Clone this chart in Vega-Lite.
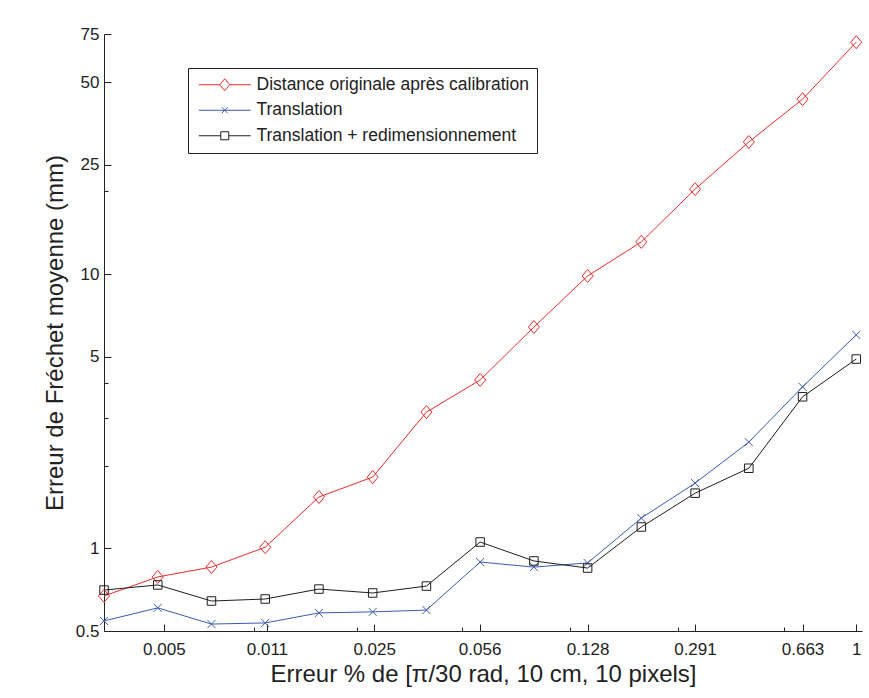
{
  "$schema": "https://vega.github.io/schema/vega-lite/v6.json",
  "width": 758,
  "height": 597,
  "autosize": "none",
  "padding": {"left": 104, "top": 34, "right": 7, "bottom": 67},
  "background": "white",
  "config": {
    "view": {"stroke": null},
    "axis": {
      "domainColor": "#222",
      "tickColor": "#222",
      "labelColor": "#222",
      "titleColor": "#222",
      "labelFont": "Liberation Sans",
      "titleFont": "Liberation Sans",
      "labelFontSize": 17,
      "titleFontSize": 24,
      "titleFontWeight": "normal",
      "tickWidth": 1,
      "domainWidth": 1,
      "grid": false,
      "labelOverlap": false,
      "labelFlush": false
    }
  },
  "data": {
    "values": [
      {"x": 0.003162, "y": 0.671, "s": "Distance originale après calibration"},
      {"x": 0.004771, "y": 0.787, "s": "Distance originale après calibration"},
      {"x": 0.007197, "y": 0.855, "s": "Distance originale après calibration"},
      {"x": 0.010858, "y": 1.01, "s": "Distance originale après calibration"},
      {"x": 0.016381, "y": 1.54, "s": "Distance originale après calibration"},
      {"x": 0.024713, "y": 1.82, "s": "Distance originale après calibration"},
      {"x": 0.037283, "y": 3.14, "s": "Distance originale après calibration"},
      {"x": 0.056246, "y": 4.11, "s": "Distance originale après calibration"},
      {"x": 0.084854, "y": 6.41, "s": "Distance originale après calibration"},
      {"x": 0.128012, "y": 9.84, "s": "Distance originale après calibration"},
      {"x": 0.193123, "y": 13.1, "s": "Distance originale après calibration"},
      {"x": 0.291352, "y": 20.4, "s": "Distance originale après calibration"},
      {"x": 0.43954, "y": 30.3, "s": "Distance originale après calibration"},
      {"x": 0.663106, "y": 43.4, "s": "Distance originale après calibration"},
      {"x": 1, "y": 70.0, "s": "Distance originale après calibration"},
      {"x": 0.003162, "y": 0.544, "s": "Translation"},
      {"x": 0.004771, "y": 0.607, "s": "Translation"},
      {"x": 0.007197, "y": 0.530, "s": "Translation"},
      {"x": 0.010858, "y": 0.535, "s": "Translation"},
      {"x": 0.016381, "y": 0.582, "s": "Translation"},
      {"x": 0.024713, "y": 0.587, "s": "Translation"},
      {"x": 0.037283, "y": 0.596, "s": "Translation"},
      {"x": 0.056246, "y": 0.892, "s": "Translation"},
      {"x": 0.084854, "y": 0.855, "s": "Translation"},
      {"x": 0.128012, "y": 0.885, "s": "Translation"},
      {"x": 0.193123, "y": 1.29, "s": "Translation"},
      {"x": 0.291352, "y": 1.73, "s": "Translation"},
      {"x": 0.43954, "y": 2.44, "s": "Translation"},
      {"x": 0.663106, "y": 3.88, "s": "Translation"},
      {"x": 1, "y": 6.0, "s": "Translation"},
      {"x": 0.003162, "y": 0.705, "s": "Translation + redimensionnement"},
      {"x": 0.004771, "y": 0.736, "s": "Translation + redimensionnement"},
      {"x": 0.007197, "y": 0.643, "s": "Translation + redimensionnement"},
      {"x": 0.010858, "y": 0.654, "s": "Translation + redimensionnement"},
      {"x": 0.016381, "y": 0.711, "s": "Translation + redimensionnement"},
      {"x": 0.024713, "y": 0.688, "s": "Translation + redimensionnement"},
      {"x": 0.037283, "y": 0.729, "s": "Translation + redimensionnement"},
      {"x": 0.056246, "y": 1.055, "s": "Translation + redimensionnement"},
      {"x": 0.084854, "y": 0.900, "s": "Translation + redimensionnement"},
      {"x": 0.128012, "y": 0.848, "s": "Translation + redimensionnement"},
      {"x": 0.193123, "y": 1.197, "s": "Translation + redimensionnement"},
      {"x": 0.291352, "y": 1.59, "s": "Translation + redimensionnement"},
      {"x": 0.43954, "y": 1.96, "s": "Translation + redimensionnement"},
      {"x": 0.663106, "y": 3.57, "s": "Translation + redimensionnement"},
      {"x": 1, "y": 4.90, "s": "Translation + redimensionnement"}
    ]
  },
  "encoding": {
    "x": {
      "field": "x",
      "type": "quantitative",
      "scale": {"type": "log", "domain": [0.003162, 1.045], "nice": false},
      "axis": {
        "title": "Erreur % de [π/30 rad, 10 cm, 10 pixels]",
        "values": [0.005, 0.01, 0.011, 0.022, 0.025, 0.049, 0.056, 0.112, 0.128, 0.255, 0.291, 0.577, 0.663, 1],
        "labelExpr": "indexof([0.01, 0.022, 0.049, 0.112, 0.255, 0.577], datum.value) >= 0 ? '' : format(datum.value, '~g')",
        "tickSize": {"condition": {"test": "indexof([0.01, 0.022, 0.049, 0.112, 0.255, 0.577], datum.value) >= 0", "value": -4}, "value": -7},
        "labelPadding": 17,
        "titlePadding": 2
      }
    },
    "y": {
      "field": "y",
      "type": "quantitative",
      "scale": {"type": "log", "domain": [0.5, 75], "nice": false},
      "axis": {
        "title": "Erreur de Fréchet moyenne (mm)",
        "values": [0.5, 1, 2, 3, 4, 5, 10, 20, 25, 50, 75],
        "labelExpr": "indexof([2, 3, 4, 20], datum.value) >= 0 ? '' : format(datum.value, '~g')",
        "tickSize": {"condition": {"test": "indexof([2, 3, 4, 20], datum.value) >= 0", "value": -4}, "value": -7},
        "labelPadding": 12,
        "titlePadding": 8
      }
    }
  },
  "layer": [
    {
      "mark": {"type": "line", "strokeWidth": 1},
      "encoding": {
        "color": {
          "field": "s", "type": "nominal",
          "scale": {"domain": ["Distance originale après calibration", "Translation", "Translation + redimensionnement"], "range": ["#ee2a2a", "#3a5bb0", "#1e1e1e"]},
          "legend": null
        }
      }
    },
    {
      "mark": {"type": "point", "filled": false, "size": 4, "strokeWidth": 1, "opacity": 1},
      "encoding": {
        "color": {
          "field": "s", "type": "nominal",
          "scale": {"domain": ["Distance originale après calibration", "Translation", "Translation + redimensionnement"], "range": ["#ee2a2a", "#3a5bb0", "#1e1e1e"]},
          "legend": null
        },
        "shape": {
          "field": "s", "type": "nominal",
          "scale": {"domain": ["Distance originale après calibration", "Translation", "Translation + redimensionnement"], "range": ["M0,-6.5L5.5,0L0,6.5L-5.5,0Z", "M-4,-4L4,4M-4,4L4,-4", "M-4.25,-4.25L4.25,-4.25L4.25,4.25L-4.25,4.25Z"]},
          "legend": null
        }
      }
    },
    {
      "mark": {"type": "point", "filled": false, "size": 0, "strokeWidth": 1, "opacity": 1},
      "encoding": {
        "color": {
          "field": "s", "type": "nominal",
          "scale": {"domain": ["Distance originale après calibration", "Translation", "Translation + redimensionnement"], "range": ["#ee2a2a", "#3a5bb0", "#1e1e1e"]},
          "legend": {"title": null, "orient": "none", "legendX": 84, "legendY": 34, "padding": 8, "strokeColor": "#222", "fillColor": "white", "symbolSize": 4, "symbolStrokeWidth": 1, "symbolOffset": 20, "labelOffset": 23, "labelFont": "Liberation Sans", "labelFontSize": 17.5, "labelColor": "#222", "rowPadding": 6.5, "labelLimit": 500}
        },
        "shape": {
          "field": "s", "type": "nominal",
          "scale": {"domain": ["Distance originale après calibration", "Translation", "Translation + redimensionnement"], "range": ["M-26,0L-5,0M5,0L26,0M0,-6L5,0L0,6L-5,0Z", "M-26,0L26,0M-3,-3L3,3M-3,3L3,-3", "M-26,0L-4,0M4,0L26,0M-4,-4L4,-4L4,4L-4,4Z"]},
          "legend": {"title": null, "orient": "none", "legendX": 84, "legendY": 34, "padding": 8, "strokeColor": "#222", "fillColor": "white", "symbolSize": 4, "symbolStrokeWidth": 1, "symbolOffset": 20, "labelOffset": 23, "labelFont": "Liberation Sans", "labelFontSize": 17.5, "labelColor": "#222", "rowPadding": 6.5, "labelLimit": 500}
        }
      }
    }
  ],
  "resolve": {"scale": {"color": "independent", "shape": "independent"}}
}
